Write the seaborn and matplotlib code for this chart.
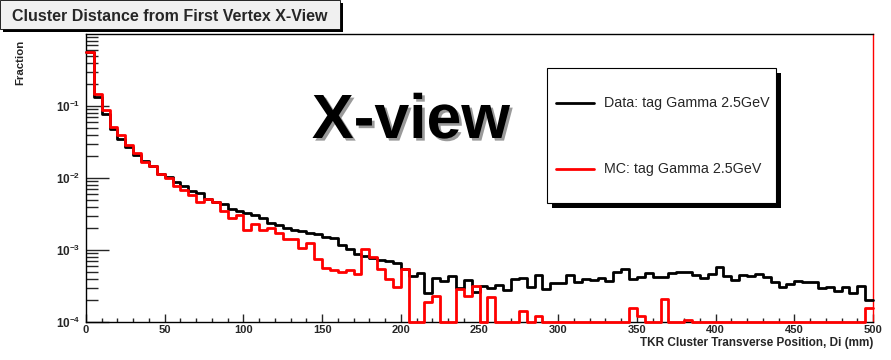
import numpy as np
import pandas as pd
import matplotlib
matplotlib.use("Agg")
import matplotlib.pyplot as plt
import matplotlib.transforms as mtransforms
import matplotlib.patheffects as pe
from matplotlib.patches import Rectangle
from matplotlib.lines import Line2D
from matplotlib.ticker import FixedLocator, MultipleLocator, FuncFormatter, NullFormatter
import seaborn as sns

# 5 mm bins from 0 to 500 mm
x_range = (0, 500)
bin_width = 5

data_frac = [
    0.56, 0.134, 0.077, 0.048, 0.035, 0.027, 0.021, 0.0175, 0.0146, 0.0115,
    0.0103, 0.0087, 0.0077, 0.0065, 0.0062, 0.0051, 0.0047, 0.0043, 0.0037, 0.0035,
    0.0033, 0.0031, 0.0028, 0.0024, 0.0022, 0.0020, 0.00189, 0.00183, 0.00174, 0.00165,
    0.00153, 0.00148, 0.00119, 0.00104, 0.00089, 0.00082, 0.00078, 0.00072, 0.00070, 0.00065,
    0.00054, 0.00043, 0.00048, 0.00025, 0.00041, 0.00037, 0.00043, 0.00030, 0.00038, 0.00026,
    0.00032, 0.00030, 0.00033, 0.00028, 0.00039, 0.00041, 0.00031, 0.00045, 0.00029, 0.00035,
    0.00035, 0.00045, 0.00036, 0.00039, 0.00038, 0.00041, 0.00037, 0.00049, 0.00055, 0.00040,
    0.00042, 0.00048, 0.00042, 0.00042, 0.00048, 0.00050, 0.00049, 0.00045, 0.00041, 0.00047,
    0.00058, 0.00043, 0.00038, 0.00045, 0.00043, 0.00047, 0.00042, 0.00036, 0.00031, 0.00034,
    0.00037, 0.00036, 0.00036, 0.00030, 0.00031, 0.00027, 0.00031, 0.00025, 0.00032, 0.00020,
]

mc_frac = [
    0.57, 0.146, 0.087, 0.051, 0.039, 0.029, 0.0224, 0.0169, 0.0146, 0.0113,
    0.0099, 0.0078, 0.0069, 0.0058, 0.0046, 0.0051, 0.0047, 0.0035, 0.0028, 0.0031,
    0.0019, 0.0023, 0.0019, 0.00204, 0.00174, 0.00144, 0.00144, 0.00105, 0.00126, 0.00074,
    0.00056, 0.00053, 0.00049, 0.00053, 0.00046, 0.00102, 0.00080, 0.00054, 0.00039, 0.00031,
    0.00055, 0.0, 0.0, 0.00019, 0.00023, 0.0, 0.0, 0.000286, 0.00023, 0.00032,
    0.0, 0.000226, 0.0, 0.0, 0.0, 0.00014, 0.0, 0.000122, 0.0, 0.0,
    0.0, 0.0, 0.0, 0.0, 0.0, 0.0, 0.0, 0.0, 0.0, 0.000155,
    0.000122, 0.0, 0.0, 0.00021, 0.0, 0.0, 0.000107, 0.0, 0.0, 0.0,
    0.0, 0.0, 0.0, 0.0, 0.0, 0.0, 0.0, 0.0, 0.0, 0.0,
    0.0, 0.0, 0.0, 0.0, 0.0, 0.0, 0.0, 0.0, 0.0, 0.000155,
]

series_labels = ["Data: tag Gamma 2.5GeV", "MC: tag Gamma 2.5GeV"]
series_colors = ["#000000", "#ff0000"]
y_decade_ticks = [1e-4, 1e-3, 1e-2, 1e-1]

title_text = "Cluster Distance from First Vertex X-View"
x_title = "TKR Cluster Transverse Position, Di (mm)"
y_title = "Fraction"
big_label = "X-view"

Y_MIN, Y_MAX = 1e-4, 1.0

sns.set_style("white")
plt.rcParams["font.family"] = ["Liberation Sans", "DejaVu Sans"]
plt.rcParams["mathtext.fontset"] = "custom"
plt.rcParams["mathtext.rm"] = "Liberation Sans:bold"
plt.rcParams["mathtext.it"] = "Liberation Sans:bold"
plt.rcParams["mathtext.bf"] = "Liberation Sans:bold"

W, H = 891, 360
fig = plt.figure(figsize=(W / 100, H / 100), dpi=100, facecolor="white")
px = mtransforms.Affine2D().scale(1 / W, -1 / H).translate(0, 1) + fig.transFigure

ax_left, ax_right, ax_top, ax_bottom = 86, 873, 34, 322
ax = fig.add_axes([ax_left / W, 1 - ax_bottom / H,
                   (ax_right - ax_left) / W, (ax_bottom - ax_top) / H])

# Long-form table of bin contents; empty bins sit on the lower frame edge
n_bins = len(data_frac)
centers = x_range[0] + bin_width * (np.arange(n_bins) + 0.5)
frames = []
for label, vals in zip(series_labels, [data_frac, mc_frac]):
    v = np.asarray(vals, dtype=float)
    frames.append(pd.DataFrame({
        "position": centers,
        "fraction": np.where(v > 0, v, Y_MIN),
        "sample": label,
    }))
df = pd.concat(frames, ignore_index=True)

for label, color, z in zip(series_labels, series_colors, [3, 4]):
    sns.histplot(data=df[df["sample"] == label].reset_index(drop=True),
                 x="position", weights="fraction",
                 binwidth=bin_width, binrange=x_range, element="step", fill=False,
                 color=color, linewidth=2.0, ax=ax, zorder=z, clip_on=False)

ax.set_yscale("log")
ax.set_xlim(*x_range)
ax.set_ylim(Y_MIN, Y_MAX)
ax.set_xlabel("")
ax.set_ylabel("")

for side in ["left", "right", "top", "bottom"]:
    ax.spines[side].set_visible(True)
    ax.spines[side].set_color("black")
    ax.spines[side].set_linewidth(1.0)
ax.spines["right"].set_color("#ff0000")

# ROOT-style inward ticks on left and bottom only
ax.xaxis.set_major_locator(MultipleLocator(50))
ax.xaxis.set_minor_locator(MultipleLocator(10))
ax.yaxis.set_major_locator(FixedLocator(y_decade_ticks))
minor_y = [m * 10.0 ** e for e in range(-4, 0) for m in range(2, 10)]
ax.yaxis.set_minor_locator(FixedLocator(minor_y))
ax.yaxis.set_minor_formatter(NullFormatter())
ax.yaxis.set_major_formatter(FuncFormatter(
    lambda v, _: r"$10^{%d}$" % int(round(np.log10(v)))))
ax.xaxis.set_major_formatter(FuncFormatter(lambda v, _: "%d" % int(round(v))))

ax.tick_params(axis="y", which="major", direction="in", length=16.5, width=1.0,
               left=True, right=False, labelsize=8.5, pad=4)
ax.tick_params(axis="y", which="minor", direction="in", length=8.3, width=1.0,
               left=True, right=False)
ax.tick_params(axis="x", which="major", direction="in", length=6, width=1.0,
               bottom=True, top=False, labelsize=8, pad=2.5)
ax.tick_params(axis="x", which="minor", direction="in", length=3, width=1.0,
               bottom=True, top=False)
for lab in ax.get_xticklabels() + ax.get_yticklabels():
    lab.set_fontweight("bold")

# Axis titles
fig.text(873, 343, x_title, transform=px, ha="right", va="center",
         fontsize=8.5, fontweight="bold")
fig.text(20, 40, y_title, transform=px, ha="center", va="top", rotation=90,
         fontsize=8.2, fontweight="bold")

# Title pave with shadow
fig.patches.append(Rectangle((3, 3), 340, 29, transform=px, facecolor="black",
                             edgecolor="none", zorder=1))
fig.patches.append(Rectangle((0, 0), 340, 29, transform=px, facecolor="#f0f0f0",
                             edgecolor="black", linewidth=0.6, zorder=2))
fig.text(11.5, 16.5, title_text, transform=px, ha="left", va="center",
         fontsize=11.5, fontweight="bold", zorder=3)

# Large view label with grey drop shadow
fig.text(411, 138, big_label, transform=px, ha="center", va="baseline",
         fontsize=45, fontweight="bold", color="black", zorder=6,
         path_effects=[pe.SimplePatchShadow(offset=(1.9, -1.9),
                                            shadow_rgbFace="#9a9a9a", alpha=1.0),
                       pe.Normal()])

# Legend box with shadow
lx0, ly0, lx1, ly1 = 547, 68, 776, 203
fig.patches.append(Rectangle((lx0 + 5, ly0 + 5), lx1 - lx0, ly1 - ly0, transform=px,
                             facecolor="black", edgecolor="none", zorder=7))
fig.patches.append(Rectangle((lx0, ly0), lx1 - lx0, ly1 - ly0, transform=px,
                             facecolor="white", edgecolor="black", linewidth=0.8,
                             zorder=8))
for (label, color, yy) in zip(series_labels, series_colors, [102.5, 168.5]):
    fig.lines.append(Line2D([556, 594], [yy, yy], transform=px, color=color,
                            linewidth=2.0, zorder=9))
    fig.text(604, yy, label, transform=px, ha="left", va="center",
             fontsize=10.3, zorder=9)

fig.savefig("out.png", dpi=100, facecolor="white")
